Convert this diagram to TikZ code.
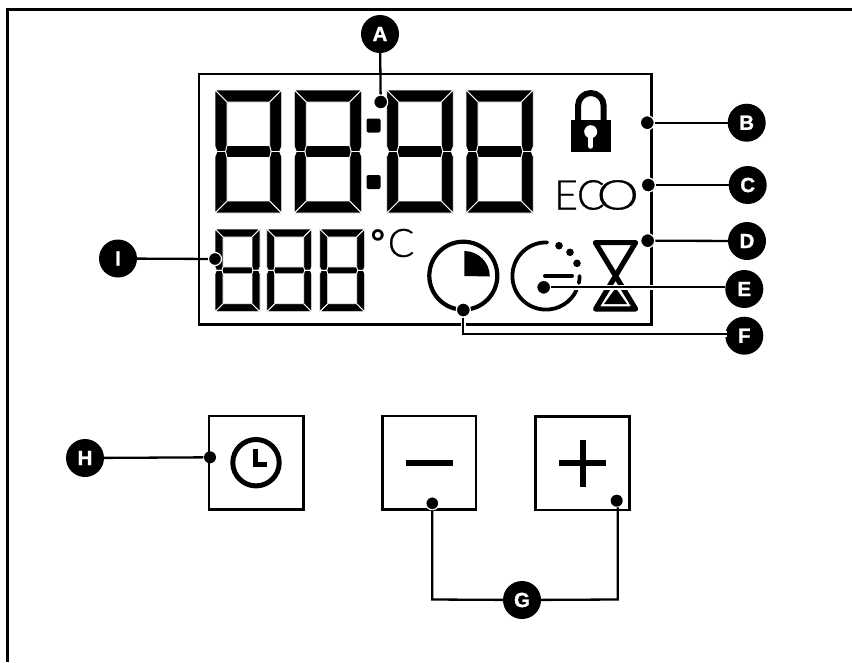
\documentclass[tikz,border=0pt]{standalone}
\usepackage{fontspec}
\setmainfont{Liberation Sans}
\newfontfamily\callfont{Liberation Sans}[BoldFeatures={FakeBold=1.2}]
\newfontfamily\lightfont{Lato Light}[FakeBold=0.8]
\newfontfamily\heavyfont{Lato}[BoldFont={* Bold}]
\tikzset{
  frameline/.style={draw=black,line width=2.8},
  leader/.style={draw=black,line width=2.3},
  halo/.style={preaction={draw=white,line width=5.5}},
  dotb/.style={circle,fill=black,draw=white,line width=1.2,minimum size=14,inner sep=0pt},
  call/.style={circle,fill=black,minimum size=38,inner sep=0pt,text=white,font=\callfont\bfseries\fontsize{20.5}{20.5}\selectfont},
  segm/.style={fill=black,draw=white,line width=0.85},
  icon/.style={draw=black,line width=4,line cap=round,line join=round},
  btn/.style={draw=black,line width=2.7,fill=white},
}
\newcommand{\sevenseg}[6]{%
  \pgfmathsetmacro\xa{#1}\pgfmathsetmacro\xd{#2}\pgfmathsetmacro\ya{#3}\pgfmathsetmacro\yf{#4}%
  \pgfmathsetmacro\tk{#5}\pgfmathsetmacro\mk{#6}%
  \pgfmathsetmacro\xb{\xa+\tk}\pgfmathsetmacro\xc{\xd-\tk}%
  \pgfmathsetmacro\yb{\ya+\tk}\pgfmathsetmacro\ye{\yf-\tk}%
  \pgfmathsetmacro\ym{(\ya+\yf)/2}\pgfmathsetmacro\yc{\ym-\mk/2}\pgfmathsetmacro\yd{\ym+\mk/2}%
  \pgfmathsetmacro\na{0.13*\tk}\pgfmathsetmacro\nb{0.17*\tk}\pgfmathsetmacro\nc{0.42*\tk}%
  \path[segm] (\xa,\ya)--(\xd,\ya)--(\xc,\yb)--(\xb,\yb)--cycle;
  \path[segm] (\xa,\yf)--(\xd,\yf)--(\xc,\ye)--(\xb,\ye)--cycle;
  \path[segm] (\xb,\yc)--(\xc,\yc)--(\xc+\na,\ym)--(\xc,\yd)--(\xb,\yd)--(\xb-\na,\ym)--cycle;
  \path[segm] (\xa,\ya)--(\xb,\yb)--(\xb,\yc)--(\xb-\na,\ym)--(\xa+\nb,\ym)--(\xa,\ym-\nc)--cycle;
  \path[segm] (\xa,\yf)--(\xb,\ye)--(\xb,\yd)--(\xb-\na,\ym)--(\xa+\nb,\ym)--(\xa,\ym+\nc)--cycle;
  \path[segm] (\xd,\ya)--(\xc,\yb)--(\xc,\yc)--(\xc+\na,\ym)--(\xd-\nb,\ym)--(\xd,\ym-\nc)--cycle;
  \path[segm] (\xd,\yf)--(\xc,\ye)--(\xc,\yd)--(\xc+\na,\ym)--(\xd-\nb,\ym)--(\xd,\ym+\nc)--cycle;
}
\begin{document}
\begin{tikzpicture}[x=1pt,y=-1pt]
\useasboundingbox (0,0) rectangle (852,662);
% outer border
\path[frameline] (7.3,662) -- (7.3,9.5) -- (852,9.5);
% screen frame
\path[frameline] (199,74) rectangle (651.7,324.3);
% big digits
\sevenseg{215}{281.7}{90}{213}{12}{12}
\sevenseg{294.3}{361.7}{90}{213}{12}{12}
\sevenseg{386.7}{453.3}{90}{213}{12}{12}
\sevenseg{466}{533.3}{90}{213}{12}{12}
% colon
\fill[rounded corners=2pt] (366.5,118.5) rectangle (380.5,132.5);
\fill[rounded corners=2pt] (366.5,175) rectangle (380.5,189);
% small digits
\sevenseg{215}{260}{229}{311.7}{8}{7}
\sevenseg{266.7}{311.7}{229}{311.7}{8}{7}
\sevenseg{319.7}{364.7}{229}{311.7}{8}{7}
% degree C
\node[inner sep=0pt,anchor=center] (deg) at (392.5,243) {\raisebox{2pt}{\heavyfont\bfseries\fontsize{34}{34}\selectfont °}\kern3pt{\lightfont\fontsize{39}{39}\selectfont C}};
% lock
\draw[line width=6] (578,120) -- (578,105.85) arc[start angle=180,end angle=360,radius=12.85] -- (603.7,120);
\fill (571,120) rectangle (610.7,151.7);
\fill[white] (590.7,131.7) circle (6.5);
\draw[white,line width=5.5,line cap=round] (590.7,134) -- (590.7,146);
% ECO
\node[inner sep=0pt] (eco) at (596.5,195) {\lightfont\fontsize{41}{41}\selectfont E\kern-1pt C\kern-8pt\scalebox{1.3}[1]{O}};
% ring icon
\draw[line width=4.2] (463.3,275.7) circle (34);
\fill (464.3,276) -- (464.3,251) arc[start angle=-90,end angle=0,radius=25.5] -- cycle;
% timer icon
\draw[icon,line width=3.8] ([shift={(-88:33.6)}]546,276) arc[start angle=-88,end angle=-335,radius=33.6];
\draw[icon,line width=3.8] ([shift={(0:33.6)}]546,276) arc[start angle=0,end angle=12,radius=33.6];
\fill (559,245.7) circle (3.8) (570,252.3) circle (3.8) (577,263.3) circle (3.8);
\draw[icon] (545,275.7) -- (572,275.7);
% hourglass
\draw[icon,line width=5.2] (595.4,242.6) -- (635.6,242.6) -- (595.6,309) -- (635.6,309) -- cycle;
\fill (604,304) -- (627,304) -- (615.7,288) -- cycle;
% buttons
\path[btn] (209,416) rectangle (303.3,509.3);
\path[btn] (382.3,416) rectangle (476,509.5);
\path[btn] (535.7,416.5) rectangle (629.3,510);
\draw[line width=5] (256,462.7) circle (23.2);
\draw[line width=5] (255,449) -- (255,464.3) -- (267,464.3);
\fill (406,460.2) rectangle (453.3,465.8);
\fill (559.3,460.2) rectangle (606,465.8);
\fill (580,440) rectangle (585.6,486.7);
% callouts
\node[call] (callA) at (380,34) {A};
\node[call] (callB) at (746.7,122.7) {B};
\node[call] (callC) at (747.7,185) {C};
\node[call] (callD) at (747,241) {D};
\node[call] (callE) at (744.3,289) {E};
\node[call] (callF) at (744.3,335.7) {F};
\node[call] (callG) at (522,600) {G};
\node[call] (callH) at (85,458) {H};
\node[call] (callI) at (118,258.5) {I};
% anchor dots
\node[dotb] (dotA) at (380.7,102) {};
\node[dotb] (dotB) at (647.3,122.7) {};
\node[dotb] (dotC) at (648.3,185) {};
\node[dotb] (dotD) at (647.7,240.7) {};
\node[dotb] (dotE) at (543.7,287.3) {};
\node[dotb] (dotF) at (463.3,310) {};
\node[dotb,draw=none,minimum size=12] (dotH) at (210,457.3) {};
\node[dotb,minimum size=13] (dotI) at (215,259) {};
\node[dotb,minimum size=13] (dotMinus) at (432.3,503.3) {};
\node[dotb,draw=none,minimum size=12] (dotPlus) at (616.7,500.7) {};
\coordinate (fEnd) at (727,334);
\coordinate (gLeft) at (432.3,599.5);
\coordinate (gRight) at (617.7,599.5);
% connectors
\path[leader] (dotA) -- (callA);
\path[leader] (dotB) -- (callB);
\path[leader] (dotC) -- (callC);
\path[leader] (dotD) -- (callD);
\path[leader,halo] (dotE) -- (dotE -| callE.west);
\path[leader,halo] (dotF) |- (fEnd);
\path[leader] (dotH) -- (callH);
\path[leader] (dotI) -- (callI);
\path[leader] (dotMinus) -- (gLeft) -- (callG);
\path[leader] (dotPlus.south -| gRight) -- (gRight) -- (callG);
\end{tikzpicture}
\end{document}
